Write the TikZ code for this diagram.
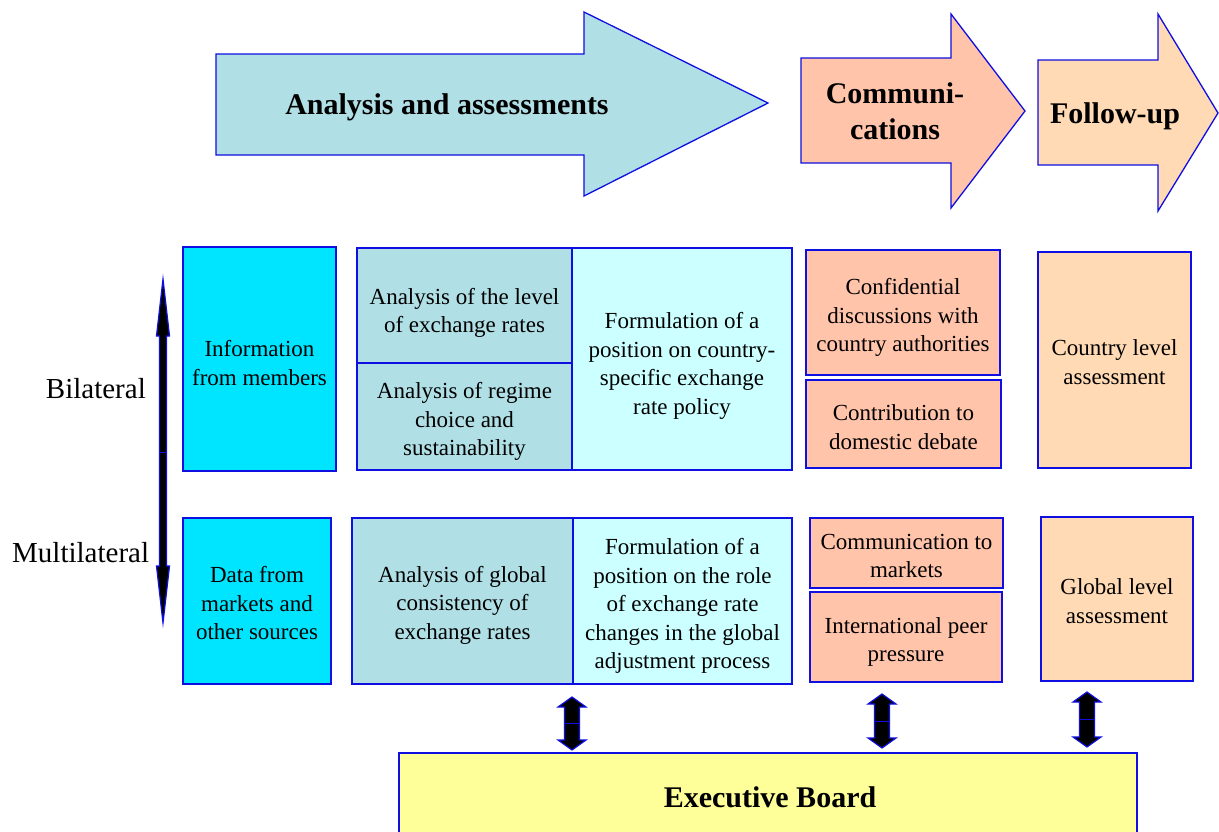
\documentclass[tikz,border=0pt]{standalone}
\usepackage{fontspec}
\setmainfont{Liberation Serif}
\definecolor{bord}{RGB}{15,15,225}
\definecolor{powder}{RGB}{176,224,230}
\definecolor{cyanbox}{RGB}{0,229,255}
\definecolor{lcyan}{RGB}{204,255,255}
\definecolor{salmonbox}{RGB}{255,196,170}
\definecolor{peachbox}{RGB}{255,218,180}
\definecolor{yellowbox}{RGB}{255,255,153}
\begin{document}
\begin{tikzpicture}[x=1pt,y=-1pt,
  box/.style={draw=bord, line width=1.3pt, inner sep=0pt},
  txt/.style={inner sep=0pt, align=center, font=\fontsize{23}{28.5}\selectfont},
  hdr/.style={font=\fontsize{30}{36}\selectfont\bfseries, align=center, inner sep=0pt},
  side/.style={font=\fontsize{29}{34}\selectfont, inner sep=0pt},
  blk/.style={draw=bord, line width=1.3pt, line join=miter},
  dblk/.style={draw=bord, line width=1.2pt, fill=black, line join=miter}]
\useasboundingbox (0,0) rectangle (1219,831);
\fill[white] (0,0) rectangle (1219,831);

% header arrows
\draw[blk, fill=powder] (216,54) -- (584,54) -- (584,12) -- (768,103) -- (584,196) -- (584,155) -- (216,155) -- cycle;
\draw[blk, fill=salmonbox] (801,58) -- (951,58) -- (951,14) -- (1025,111) -- (951,208) -- (951,163) -- (801,163) -- cycle;
\draw[blk, fill=peachbox] (1038,60) -- (1158,60) -- (1158,14) -- (1218,113) -- (1158,211) -- (1158,165) -- (1038,165) -- cycle;
\node[hdr] (hA) at (447,107) {Analysis and assessments};
\node[hdr] (hC) at (895,111) {Communi-\\cations};
\node[hdr] (hF) at (1115,116) {Follow-up};

% side labels
\node[side, anchor=east] (bil) at (146,389) {Bilateral};
\node[side, anchor=west] (mul) at (12,553) {Multilateral};

% left double arrow
\draw[dblk] (163,279) -- (169.5,336) -- (166.5,336) -- (166.5,566) -- (169.5,566) -- (163,623)
  -- (156.5,566) -- (159.5,566) -- (159.5,336) -- (156.5,336) -- cycle;
\draw[bord, line width=0.6pt] (159.5,452) -- (166.5,452);

% bilateral row
\node[box, fill=cyanbox, minimum width=153, minimum height=224] (info) at (259.5,359) {};
\node[txt] (infoT) at ([yshift=-4pt]info.center) {Information\\from members};
\node[box, fill=powder, minimum width=215, minimum height=115] (lvl) at (464.5,305.5) {};
\node[txt] (lvlT) at ([yshift=-7.5pt]lvl.center) {Analysis of the level\\of exchange rates};
\node[box, fill=powder, minimum width=215, minimum height=107] (reg) at (464.5,416.5) {};
\node[txt] (regT) at ([yshift=-5pt]reg.center) {Analysis of regime\\choice and\\sustainability};
\node[box, fill=lcyan, minimum width=220, minimum height=222] (form1) at (682,359) {};
\node[txt] (form1T) at ([yshift=-7pt]form1.center) {Formulation of a\\position on country-\\specific exchange\\rate policy};
\node[box, fill=salmonbox, minimum width=194, minimum height=125] (conf) at (903,312.5) {};
\node[txt] (confT) at ([yshift=-5pt]conf.center) {Confidential\\discussions with\\country authorities};
\node[box, fill=salmonbox, minimum width=195, minimum height=88] (contrib) at (903.5,424) {};
\node[txt] (contribT) at ([yshift=-3pt]contrib.center) {Contribution to\\domestic debate};
\node[box, fill=peachbox, minimum width=153, minimum height=216] (country) at (1114.5,360) {};
\node[txt] (countryT) at ([yshift=-2pt]country.center) {Country level\\assessment};

% multilateral row
\node[box, fill=cyanbox, minimum width=148, minimum height=166] (data) at (257,601) {};
\node[txt] (dataT) at ([yshift=-2.5pt]data.center) {Data from\\markets and\\other sources};
\node[box, fill=powder, minimum width=221, minimum height=166] (glob) at (462.5,601) {};
\node[txt] (globT) at ([yshift=-4pt]glob.center) {Analysis of global\\consistency of\\exchange rates};
\node[box, fill=lcyan, minimum width=219, minimum height=166] (form2) at (682.5,601) {};
\node[txt] (form2T) at ([yshift=-5pt]form2.center) {Formulation of a\\position on the role\\of exchange rate\\changes in the global\\adjustment process};
\node[box, fill=salmonbox, minimum width=193, minimum height=70] (commk) at (906.5,553) {};
\node[txt] (commkT) at ([yshift=-3pt]commk.center) {Communication to\\markets};
\node[box, fill=salmonbox, minimum width=192, minimum height=90] (peer) at (906,637) {};
\node[txt] (peerT) at ([yshift=-5pt]peer.center) {International peer\\pressure};
\node[box, fill=peachbox, minimum width=152, minimum height=164] (global) at (1117,599) {};
\node[txt] (globalT) at ([yshift=-2pt]global.center) {Global level\\assessment};

% executive board
\node[box, fill=yellowbox, minimum width=738, minimum height=84] (exec) at (768,795) {};
\node[hdr] (execT) at (770,797) {Executive Board};

% small double arrows
\foreach \x/\t/\b in {572/697/750, 882/694/748, 1087/692/747}{
  \draw[dblk] (\x,\t) -- ({\x+14},{\t+10}) -- ({\x+7.5},{\t+10}) -- ({\x+7.5},{\b-10}) -- ({\x+14},{\b-10})
    -- (\x,\b) -- ({\x-14},{\b-10}) -- ({\x-7.5},{\b-10}) -- ({\x-7.5},{\t+10}) -- ({\x-14},{\t+10}) -- cycle;
  \draw[bord, line width=0.8pt] ({\x-7.5},{(\t+\b)/2}) -- ({\x+7.5},{(\t+\b)/2});
}
\end{tikzpicture}
\end{document}
